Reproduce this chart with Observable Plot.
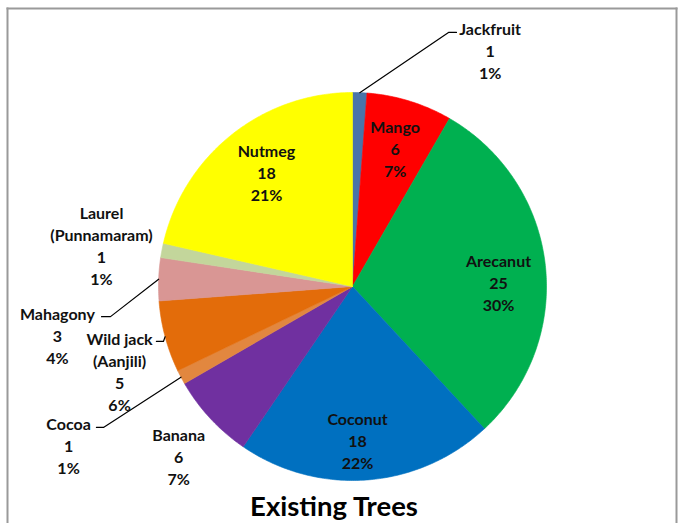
<!DOCTYPE html>
<html>
<head>
<meta charset="utf-8">
<script src="https://cdn.jsdelivr.net/npm/d3@7"></script>
<script src="https://cdn.jsdelivr.net/npm/@observablehq/plot@0.6"></script>
<style>
  html, body { margin: 0; padding: 0; background: #fff; }
  svg { display: block; }
</style>
</head>
<body>
<div id="chart"></div>
<script>
// Tree counts, clockwise from twelve o'clock
const names = ["Jackfruit", "Mango", "Arecanut", "Coconut", "Banana", "Cocoa",
  "Wild jack (Aanjili)", "Mahagony", "Laurel (Punnamaram)", "Nutmeg"];
const displayNames = ["Jackfruit", "Mango", "Arecanut", "Coconut", "Banana", "Cocoa",
  "Wild jack\n(Aanjili)", "Mahagony", "Laurel\n(Punnamaram)", "Nutmeg"];
const counts = [1, 6, 25, 18, 6, 1, 5, 3, 1, 18];
const percentLabels = ["1%", "7%", "30%", "22%", "7%", "1%", "6%", "4%", "1%", "21%"];
const colors = ["#4a74a8", "#ff0000", "#00b050", "#0070c0", "#7030a0", "#e2873f",
  "#e36c0a", "#d99694", "#c3d69b", "#ffff00"];
const title = "Existing Trees";

// Layout: page size, pie centre and radius in pixels
const W = 681, H = 523;
const CX = 352, CY = 286, R = 194;
const M = {top: 8, right: 5, bottom: 0, left: 7};

// Label placement in polar form (angle in degrees clockwise from top, radius in pie radii)
const labelPlace = {
  "Jackfruit": {angle: 30.2, r: 1.41},
  "Mango": {r: 0.745},
  "Arecanut": {angle: 88.4, r: 0.753},
  "Coconut": {angle: 178.1, r: 0.794},
  "Banana": {angle: 225.8, r: 1.25},
  "Cocoa": {angle: 240.9, r: 1.675},
  "Wild jack (Aanjili)": {angle: 250.1, r: 1.277},
  "Mahagony": {angle: 260.6, r: 1.542},
  "Laurel (Punnamaram)": {angle: 279.3, r: 1.311},
  "Nutmeg": {angle: 323, r: 0.737}
};
// Leader lines: elbow (polar) and horizontal tail length in pixels
const leaders = {
  "Jackfruit": {angle: 20.7, r: 1.40, tail: 8},
  "Cocoa": {angle: 240.5, r: 1.475, tail: -7},
  "Wild jack (Aanjili)": {angle: 253.8, r: 1.015, tail: -7},
  "Mahagony": {angle: 262.9, r: 1.257, tail: -9}
};

const rad = (deg) => deg * Math.PI / 180;
const polar = (a, r) => ({x: r * Math.sin(a), y: r * Math.cos(a)});

const data = names.map((name, i) => ({name, label: displayNames[i], count: counts[i], pct: percentLabels[i]}));
const arcs = d3.pie().sort(null).value(d => d.count)(data);

// Slice outlines as closed polygons in pie-radius units
const slicePoints = arcs.flatMap(a => {
  const n = Math.max(4, Math.ceil((a.endAngle - a.startAngle) / 0.01));
  const pts = [{name: a.data.name, x: 0, y: 0}];
  for (let k = 0; k <= n; k++) {
    const t = a.startAngle + (a.endAngle - a.startAngle) * k / n;
    pts.push({name: a.data.name, ...polar(t, 1)});
  }
  pts.push({name: a.data.name, x: 0, y: 0});
  return pts;
});

const labels = arcs.map(a => {
  const mid = (a.startAngle + a.endAngle) / 2;
  const p = labelPlace[a.data.name];
  const ang = p.angle != null ? rad(p.angle) : mid;
  return {...polar(ang, p.r), text: `${a.data.label}\n${a.data.count}\n${a.data.pct}`};
});

const leaderPoints = arcs.filter(a => leaders[a.data.name]).flatMap(a => {
  const mid = (a.startAngle + a.endAngle) / 2;
  const l = leaders[a.data.name];
  const start = polar(mid, 1);
  const elbow = polar(rad(l.angle), l.r);
  const end = {x: elbow.x + l.tail / R, y: elbow.y};
  return [start, elbow, end].map(p => ({name: a.data.name, ...p}));
});

const chart = Plot.plot({
  width: W,
  height: H,
  marginTop: M.top, marginRight: M.right, marginBottom: M.bottom, marginLeft: M.left,
  x: {domain: [(M.left - CX) / R, (W - M.right - CX) / R], axis: null},
  y: {domain: [(CY - (H - M.bottom)) / R, (CY - M.top) / R], axis: null},
  color: {domain: names, range: colors},
  style: {fontFamily: "Lato, 'DejaVu Sans', sans-serif", background: "#fff"},
  marks: [
    Plot.frame({anchor: "top", stroke: "#9a9a9a", strokeWidth: 2}),
    Plot.frame({anchor: "left", stroke: "#9a9a9a", strokeWidth: 2}),
    Plot.frame({anchor: "right", stroke: "#9a9a9a", strokeWidth: 2}),
    Plot.line(slicePoints, {x: "x", y: "y", z: "name", fill: "name", stroke: "name", strokeWidth: 0.6}),
    Plot.line(leaderPoints, {x: "x", y: "y", z: "name", stroke: "#000", strokeWidth: 1.2}),
    Plot.text(labels, {x: "x", y: "y", text: "text", fontSize: 16, fontWeight: "bold",
      lineHeight: 1.375, fill: "#111"}),
    Plot.text([title], {frameAnchor: "bottom", lineAnchor: "bottom", dx: -8, dy: -8,
      fontSize: 27.5, fontWeight: "bold", fill: "#000"})
  ]
});
document.getElementById("chart").append(chart);
</script>
</body>
</html>
